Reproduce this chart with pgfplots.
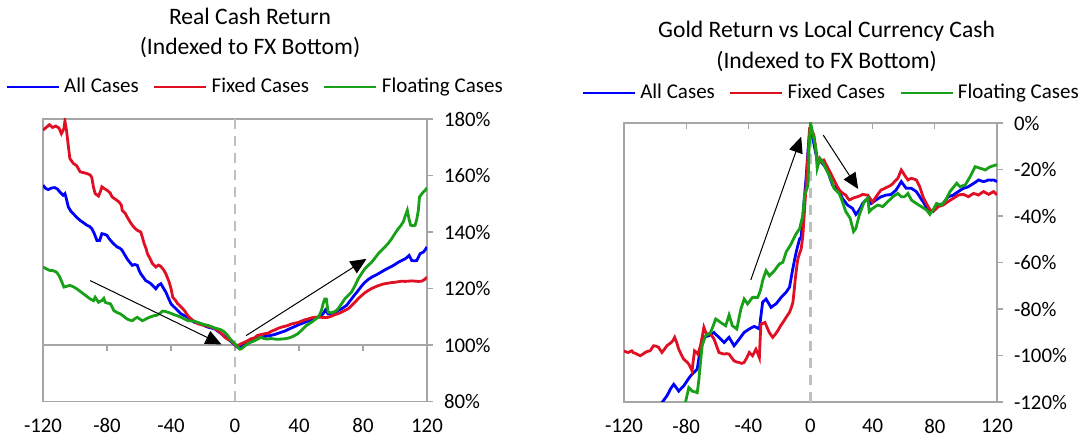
\documentclass[border=0pt]{standalone}
\usepackage{fontspec}
\setmainfont{Carlito}
\usepackage{pgfplots}
\pgfplotsset{compat=1.18}
\usetikzlibrary{arrows.meta}
\definecolor{cBlue}{RGB}{0,0,255}
\definecolor{cRed}{RGB}{224,16,36}
\definecolor{cGreen}{RGB}{24,160,24}
\definecolor{bord}{RGB}{166,166,166}
\definecolor{dashg}{RGB}{191,191,191}
\tikzset{arr/.style={black, line width=0.5pt, -{Triangle[length=8pt,width=7pt]}}}
\pgfplotsset{
  mystyle/.style={
    scale only axis,
    axis line style={bord, line width=0.6pt},
    ytick pos=right, yticklabel pos=right,
    tick align=outside,
    major tick length=3pt,
    y tick style={bord, line width=0.6pt},
    x tick style={draw=none},
    tick label style={font=\fontsize{10.4}{12}\selectfont, black},
    yticklabel style={xshift=2pt},
    xticklabel style={yshift=-2pt},
    xtick={-120,-80,-40,0,40,80,120},
    xticklabels={-120,-80,-40,0,40,80,120},
    xmin=-120, xmax=120,
    legend style={draw=none, fill=none, legend columns=3, font=\fontsize{10.5}{12}\selectfont,
      /tikz/every even column/.append style={column sep=5pt}},
    legend image code/.code={\draw[#1] (0pt,0pt) -- (26pt,0pt);},
    every axis plot/.append style={line width=1.4pt, mark=none},
  },
}
\begin{document}
\begin{tikzpicture}[x=1pt,y=1pt]
\path[use as bounding box] (0,0) rectangle (543,222);
\node[anchor=base, font=\fontsize{11.8}{14}\selectfont] at (125,209.5) {Real Cash Return};
\node[anchor=base, font=\fontsize{11.8}{14}\selectfont] at (125,194.8) {(Indexed to FX Bottom)};
\node[anchor=base, font=\fontsize{11.8}{14}\selectfont] at (413.3,203.3) {Gold Return vs Local Currency Cash};
\node[anchor=base, font=\fontsize{11.8}{14}\selectfont] at (413.3,187.8) {(Indexed to FX Bottom)};

% ---------------- Left chart ----------------
\begin{axis}[mystyle, at={(21.5pt,21.25pt)}, anchor=south west, width=192pt, height=141.25pt,
  ymin=80, ymax=180, ytick={80,100,120,140,160,180},
  yticklabels={80\%,100\%,120\%,140\%,160\%,180\%},
  legend style={at={(0.555,1.113)}, anchor=center}]
\addplot[dashg, line width=1.3pt, dash pattern=on 5pt off 3.5pt, forget plot] coordinates {(0,80) (0,180)};
\addplot[bord, line width=0.6pt, forget plot] coordinates {(-120,100) (120,100)};
\pgfplotsinvokeforeach{-120,-80,-40,0,40,80,120}{\draw[bord, line width=0.6pt] (axis cs:#1,100) -- ++(0pt,-3pt);}
\addplot[cBlue] coordinates {
(-120,156.6)(-118.5,155.5)(-116.8,155.0)(-114.5,155.6)(-112.6,155.7)(-111,155.2)(-109.5,154.2)(-108,153.3)(-107.4,153.0)(-106.3,153.6)(-105.5,152)(-104.2,148.9)(-102.5,147.3)(-101.1,146.5)(-99,145.2)(-96.8,144.1)(-94.5,143.2)(-92.6,142.4)(-91,142)(-89.5,141.2)(-88,139.5)(-86.3,137.0)(-84.6,137.0)(-83.2,139.4)(-81.5,139.2)(-80.0,138.8)(-78.5,137.5)(-76.8,136.4)(-75.2,135.5)(-73.7,134.7)(-72,134.3)(-70.5,133.5)(-69,132)(-67.4,130.5)(-65.8,129.3)(-64.2,128.2)(-62.7,128.5)(-61.1,128.2)(-60,126.5)(-58.9,125.2)(-57.3,124)(-55.8,122.8)(-54.2,122.3)(-52.6,121.7)(-51,120.8)(-49.5,119.9)(-47.8,121.2)(-46.3,121.7)(-44.8,120.2)(-43.2,118.7)(-41.6,116.6)(-40.0,114.6)(-38.4,113.6)(-36.8,112.8)(-35.2,111.8)(-33.7,111.0)(-31.6,110.4)(-29.5,109.8)(-27.4,108.8)(-25.3,108.0)(-23.2,107.8)(-21.1,107.5)(-19,106.8)(-16.8,106.3)(-14.7,106.0)(-12.6,105.7)(-10.5,104.8)(-8.4,103.9)(-6.3,103)(-4.2,102.1)(-2,101)(0,100)
(1.3,99.3)(2.7,98.9)(5,99.8)(7.9,100.9)(10.5,101.6)(13.2,102.1)(15.8,102.7)(18.4,103.0)(21.5,103.3)(24.7,103.7)(27.8,104.3)(31.0,104.9)(34,105.7)(37.2,106.5)(40.3,107.3)(43.5,108.0)(46.6,108.7)(49.8,109.2)(52.5,110.1)(55.0,111.0)(56.5,112.4)(58.2,111.0)(60.2,111.2)(62.3,111.6)(64.4,112.2)(66.5,112.8)(68.1,113.4)(69.7,114.0)(71.2,115.1)(72.8,116.3)(75,117.9)(77.0,119.3)(79,120.8)(81.2,122.2)(83.3,123.2)(85.4,124.0)(87.5,124.6)(89.5,125.2)(91.6,125.9)(93.7,126.6)(95.8,127.2)(97.9,127.8)(100,128.5)(102.1,129.3)(104.2,129.9)(106.3,130.5)(107.5,131.0)(108.8,131.7)(110.5,129.9)(112,129.8)(113.6,129.9)(115.7,132.3)(117.8,132.9)(119,133.8)(120,134.7)
};
\addlegendentry{All Cases}
\addplot[cRed] coordinates {
(-120,176.1)(-118,177.0)(-116,178.0)(-114,177.0)(-112,177.5)(-110,176.8)(-108.5,174.8)(-107,176.5)(-106.3,179.3)(-105.3,176.0)(-104.5,172)(-103.2,166.0)(-101.1,164.3)(-99,163.5)(-96.8,161.3)(-94.5,161.0)(-92.6,160.7)(-90.5,160.2)(-89.5,159.3)(-88.5,156)(-87.4,153.6)(-85.3,152.7)(-84,154.5)(-83.2,156.0)(-81.5,155.3)(-80.0,154.8)(-78,153.8)(-76.8,152.4)(-74.5,151.5)(-72.6,150.7)(-71,149.5)(-70.5,147.7)(-68.5,146.5)(-67.4,145.3)(-65.5,143.5)(-64.2,142.4)(-62.5,141.3)(-61.1,140.6)(-58.9,140.0)(-57.8,138)(-56.8,135.9)(-55.5,134)(-54.7,132.3)(-53,130.5)(-51.6,128.8)(-49.5,127.6)(-47.8,128.3)(-46.3,127.8)(-44.5,126.5)(-43.2,125.2)(-41.1,122.2)(-39.8,119.5)(-38.9,116.9)(-37.2,115.8)(-35.8,114.6)(-33.7,113.5)(-31.6,112.2)(-29.5,110.4)(-27.4,109.2)(-25.3,108.3)(-23.2,107.5)(-21,107.2)(-18.9,106.9)(-16.8,106.6)(-14.7,106.3)(-12.6,105.8)(-10.5,105.1)(-8.4,104)(-6.3,102.7)(-4.2,101.9)(-2.1,101.5)(0,100)
(1.5,99.8)(3.8,100.4)(6,101)(7.9,101.5)(10,102.2)(12.1,102.5)(14,103.4)(16.3,103.7)(18.5,104.0)(20.5,104.1)(22.5,104.8)(24.7,105.3)(27,105.9)(28.9,106.3)(31,106.6)(33.1,106.9)(35,107.4)(37.2,107.7)(39.5,108.0)(41.4,108.4)(43.5,108.9)(45.6,109.2)(47.7,109.6)(49.8,109.8)(52,109.9)(54,109.8)(56,109.7)(58.2,109.8)(60.3,110.2)(62.3,110.7)(64.4,111.1)(66.5,111.6)(68.6,112.2)(70.7,112.8)(72.8,113.9)(74.9,115.1)(77,116.4)(79.1,117.5)(81.2,118.5)(83.3,119.3)(85.4,120.0)(87.4,120.5)(89.5,121.0)(91.6,121.4)(93.7,121.7)(95.8,121.9)(97.9,122.1)(100,122.2)(102.1,122.4)(104.2,122.6)(106.3,122.5)(108.4,122.6)(110.5,122.7)(112.6,122.6)(114.7,122.5)(116.7,122.6)(118.5,123.2)(120,124.0)
};
\addlegendentry{Fixed Cases}
\addplot[cGreen] coordinates {
(-120,127.6)(-118,127)(-115.8,126.4)(-113.5,126.3)(-111.6,125.8)(-110.5,125)(-109.5,124.0)(-108,122)(-106.9,120.5)(-105,120.8)(-103.2,121.1)(-101,120.6)(-98.9,119.9)(-96.8,119)(-94.7,118.1)(-92.6,117.2)(-90.5,116.3)(-88.4,115.7)(-87.4,116.9)(-86.3,116)(-85.3,115.1)(-84.2,115.5)(-83.2,115.7)(-82,116.5)(-81.1,115.1)(-79.5,114.8)(-77.9,114.6)(-76.8,113.5)(-75.8,112.2)(-73.7,111.5)(-71.6,111.0)(-69.5,110.1)(-67.4,109.2)(-65.8,108.8)(-64.2,108.6)(-62.6,109.3)(-61.1,109.8)(-59.5,109.2)(-57.9,108.6)(-56.3,109.0)(-54.7,109.5)(-52.6,110.0)(-50.5,110.4)(-49,110.5)(-47.4,111.0)(-45.3,112.0)(-43.7,111.9)(-42.1,111.6)(-40,111.2)(-37.9,110.7)(-35.8,110.3)(-33.7,109.8)(-31.6,109.2)(-29.5,108.6)(-27.4,108.5)(-25.3,108.4)(-23.2,108.0)(-21.1,107.5)(-19,107.2)(-16.8,106.9)(-14.7,106.5)(-12.6,106.0)(-10.5,105.7)(-8.4,105.3)(-6.8,104.7)(-5.3,103.9)(-3.7,102.7)(-2.1,101.5)(0,100.4)
(1.5,99.4)(3,98.5)(3.8,98.6)(5.8,99.5)(7.9,100.4)(10,101)(12.1,101.5)(14.2,102.1)(16.3,102.7)(18.4,102.2)(20.5,102.1)(22.6,102.3)(24.7,102.1)(26.8,102.0)(28.9,102.1)(31,102.2)(33.1,102.4)(35.2,102.8)(37.2,103.3)(39.3,104.0)(41.4,105.1)(43,106.0)(44.6,106.9)(46.2,107.5)(47.7,108.0)(49.8,108.9)(51.9,109.8)(53,110.8)(54.0,112.2)(55,114.5)(56.1,116.3)(57.1,116.3)(58.2,111.6)(59.8,111.4)(61.3,111.6)(62.9,112.0)(64.4,112.8)(66.5,114.5)(68.6,116.3)(70.7,117.5)(72.8,118.7)(75,121.0)(77.0,123.4)(79,125.2)(81.2,127.0)(83.3,128.2)(85.4,129.3)(87.5,130.8)(89.5,132.3)(91.6,133.5)(93.7,134.7)(95.8,136.0)(97.9,137.6)(100,139.5)(102.1,141.2)(103.7,142.3)(105.2,143.6)(106.5,145.8)(107.7,147.7)(108.8,144.5)(109.8,142.4)(111.2,142.2)(112.6,142.4)(113.6,144.5)(114.6,147.7)(115.3,152.4)(116.5,153.3)(117.8,154.2)(119,154.8)(120,155.7)
};
\addlegendentry{Floating Cases}
\draw[arr] (axis cs:-90.5,122.8) -- (axis cs:-8.4,100.2);
\draw[arr] (axis cs:6.9,103.3) -- (axis cs:82.2,130.5);
\end{axis}

% ---------------- Right chart ----------------
\begin{axis}[mystyle, at={(312pt,21pt)}, anchor=south west, width=186.5pt, height=139.5pt,
  ymin=-120, ymax=0, ytick={-120,-100,-80,-60,-40,-20,0},
  yticklabels={-120\%,-100\%,-80\%,-60\%,-40\%,-20\%,0\%},
  legend style={at={(0.558,1.1075)}, anchor=center}]
\addplot[dashg, line width=1.3pt, dash pattern=on 5pt off 3.5pt, forget plot] coordinates {(0,-120) (0,0)};
\pgfplotsinvokeforeach{-120,-80,-40,0,40,80,120}{\draw[bord, line width=0.6pt] (axis cs:#1,0) -- ++(0pt,-3pt);}
\addplot[cBlue] coordinates {
(-100,-124)(-97.8,-122)(-95.6,-120.3)(-94,-118.8)(-92.4,-117.4)(-91.3,-116)(-90.2,-114.5)(-89.1,-113.4)(-88.0,-112.4)(-86.4,-113.8)(-84.8,-115.3)(-83.2,-114.2)(-81.6,-113.1)(-80.5,-112)(-79.4,-110.9)(-78.3,-109.8)(-77.2,-108.8)(-76.1,-108)(-75.1,-107.3)(-74,-106.6)(-72.9,-105.9)(-71.8,-101)(-70.8,-97.3)(-69.7,-94.5)(-68.6,-92.2)(-67,-91.8)(-65.4,-91.5)(-63.8,-90.8)(-62.1,-90.1)(-60.5,-91.2)(-58.9,-92.2)(-57.2,-93.3)(-55.6,-94.4)(-54,-93.3)(-52.4,-92.2)(-50.8,-94)(-49.2,-95.8)(-47.5,-94.4)(-45.9,-93.0)(-44.3,-91.5)(-42.7,-90.1)(-41,-89.3)(-39.4,-88.6)(-37.8,-88)(-36.2,-87.5)(-34.5,-88)(-32.9,-88.6)(-31.9,-83)(-30.8,-77.1)(-29.7,-76.4)(-28.6,-75.7)(-27,-77.5)(-25.4,-79.3)(-23.8,-78.5)(-22.2,-77.8)(-20.5,-76.4)(-18.9,-75.0)(-17.3,-73.9)(-15.7,-72.8)(-14.6,-71.7)(-13.5,-70.6)(-12.4,-66.5)(-11.4,-62.7)(-10.3,-59)(-9.2,-55.5)(-8.1,-52.6)(-7.0,-49.8)(-6.0,-49.1)(-4.9,-39.7)(-3.8,-31)(-2.7,-22.4)(-1.6,-12)(-0.6,-3.7)(0,-2.3)
(1.1,-5)(2.2,-9)(3.2,-12.5)(4.3,-15.2)(6,-16.2)(7.6,-17.3)(9.2,-18.7)(10.8,-20.2)(12.5,-23.5)(14.1,-26.7)(15.7,-27.4)(17.3,-28.1)(18.9,-30.3)(20.5,-32.4)(22.2,-33.9)(23.8,-35.3)(25.4,-36)(27.0,-36.7)(28.1,-38)(29.2,-39.3)(30.3,-38.4)(31.4,-37.4)(32.5,-36)(33.5,-34.6)(35.2,-33.5)(36.8,-32.4)(37.8,-33.5)(38.9,-34.6)(40.5,-33.9)(42.2,-33.1)(43.8,-32.4)(45.4,-31.7)(47,-31.4)(48.6,-31.0)(50.3,-30.9)(51.9,-30.7)(53.5,-29.8)(55.1,-28.8)(56.8,-27)(58.4,-25.2)(60,-26.7)(61.6,-28.1)(63.2,-28.1)(64.9,-28.1)(66.5,-28.8)(68.1,-29.5)(69.2,-30.6)(70.3,-31.7)(71.3,-32.8)(72.4,-33.8)(74,-35.6)(75.7,-37.4)(77.3,-37.8)(78.9,-38.1)(80.5,-36.7)(82.2,-35.3)(83.8,-35.0)(85.4,-34.6)(87,-33.2)(88.6,-31.7)(90.2,-31.4)(91.9,-31.0)(93.5,-30.2)(95.1,-29.5)(96.7,-28.8)(98.4,-28.1)(100,-27.8)(101.6,-27.4)(103.2,-26.7)(104.9,-26.0)(106.5,-25.3)(108.1,-24.5)(109.7,-24.9)(111.4,-25.2)(113,-24.9)(114.6,-24.5)(116.2,-24.6)(117.8,-24.5)(119,-24.9)(120,-25.2)
};
\addlegendentry{All Cases}
\addplot[cRed] coordinates {
(-120,-98.0)(-118.6,-98.5)(-117.2,-98.7)(-116,-98.3)(-115.0,-98.0)(-114,-98.8)(-112.9,-99.0)(-111.2,-99.6)(-109.6,-100.1)(-108,-99.5)(-106.4,-98.7)(-104.8,-98.2)(-103.2,-98.0)(-102,-96.8)(-101.0,-95.8)(-99.4,-96)(-97.8,-96.5)(-96.7,-97.6)(-95.6,-98.7)(-94,-97.3)(-92.4,-95.8)(-90.8,-95)(-89.1,-94.1)(-88.2,-93.2)(-87.4,-92.2)(-86,-94.6)(-84.8,-97.3)(-83.2,-99.5)(-81.6,-101.6)(-80,-102.5)(-78.3,-103.7)(-77.3,-105)(-76.2,-106.6)(-75.4,-102)(-74.6,-98.0)(-73.5,-98.6)(-72.5,-99.4)(-71.6,-97.5)(-70.8,-95.8)(-69.7,-92)(-68.6,-87.9)(-67.7,-89.5)(-66.9,-90.8)(-65.6,-90.8)(-64.3,-90.8)(-63.2,-91.8)(-62.1,-92.9)(-60.5,-95.8)(-58.9,-98.7)(-57.2,-99.1)(-55.6,-99.4)(-54,-99.2)(-52.4,-99.4)(-50.8,-100.9)(-49.2,-102.3)(-47.5,-102.8)(-45.9,-103.0)(-44.3,-103.4)(-42.7,-103.0)(-41,-101)(-39.4,-98.7)(-38.4,-99.4)(-37.3,-100.1)(-36.2,-98.7)(-35.1,-97.3)(-34,-99)(-32.9,-100.9)(-32.4,-93)(-31.9,-86.5)(-30.6,-86.2)(-29.3,-85.8)(-27.9,-88)(-26.5,-90.1)(-25.4,-91.2)(-24.3,-92.2)(-22.7,-90.9)(-21.1,-89.4)(-19.5,-87.5)(-17.8,-85.8)(-16.8,-84.8)(-15.7,-83.6)(-14.6,-82.5)(-13.5,-81.4)(-12.4,-79.5)(-11.3,-77.1)(-10.5,-72)(-9.8,-67.1)(-8.9,-62)(-8.1,-58.4)(-7,-56)(-6.0,-54.1)(-4.9,-48.3)(-3.8,-37)(-2.7,-25.3)(-1.9,-17)(-1.2,-9.5)(-0.6,-2.3)(0,-2.0)
(1,-3.5)(2.2,-5.2)(3.2,-10)(4.3,-15.2)(5.4,-16.3)(6.5,-16.6)(7.6,-16.0)(8.6,-15.9)(9.7,-17.5)(10.8,-18.8)(11.9,-20.3)(13.0,-21.6)(14.1,-23.2)(15.1,-24.5)(16.2,-26)(17.3,-27.4)(18.4,-28.6)(19.5,-29.5)(21.1,-30.4)(22.7,-31.0)(23.8,-32.2)(24.9,-33.1)(26,-32.8)(27.0,-32.4)(28.7,-32)(30.3,-31.7)(31.9,-31.3)(33.5,-30.7)(35.2,-30.9)(36.8,-31.0)(38.4,-32.6)(40.0,-34.1)(41.1,-32.8)(42.2,-31.7)(43.8,-30.2)(45.4,-28.8)(47,-28.4)(48.6,-27.8)(50.3,-27.3)(51.9,-26.7)(53,-26)(54.1,-25.2)(55.2,-24.4)(56.2,-23.8)(57.3,-22)(58.4,-20.2)(59.5,-21.3)(60.5,-22.4)(61.6,-23.5)(62.7,-24.5)(63.8,-24.1)(64.9,-23.8)(66.5,-24.1)(68.1,-24.5)(69.2,-26)(70.3,-27.4)(71.3,-29.5)(72.4,-31.7)(74,-33.9)(75.7,-36.0)(76.8,-37.1)(77.8,-38.1)(78.9,-37.8)(80.0,-37.4)(81.1,-36.7)(82.2,-36.0)(83.8,-35.6)(85.4,-35.3)(87,-34.5)(88.6,-33.8)(90.2,-33.1)(91.9,-32.4)(93.5,-31.7)(95.1,-31.0)(96.7,-30.8)(98.4,-30.7)(100,-31.2)(101.6,-31.7)(103.2,-31.0)(104.9,-30.3)(106.5,-30.6)(108.1,-31.0)(109.7,-30.2)(111.4,-29.5)(113,-30.1)(114.6,-30.7)(116.2,-30.1)(117.8,-29.5)(119,-30.2)(120,-31.0)
};
\addlegendentry{Fixed Cases}
\addplot[cGreen] coordinates {
(-81.5,-124)(-80.5,-120.3)(-79.4,-117)(-78.3,-113.8)(-77.2,-114.5)(-76.2,-115.3)(-74.5,-115.6)(-72.9,-116.0)(-72.3,-113)(-71.8,-110.2)(-70.8,-103)(-69.7,-95.8)(-68.6,-93.6)(-67.5,-91.5)(-65.9,-90.8)(-64.3,-90.1)(-62.6,-87.2)(-61.0,-84.3)(-59.4,-85)(-57.8,-85.8)(-56.2,-86.5)(-54.6,-87.2)(-53.5,-85)(-52.4,-82.6)(-51.3,-85)(-50.3,-87.2)(-48.8,-87.9)(-47.4,-88.6)(-46.1,-84.3)(-44.8,-80.0)(-43.7,-77.8)(-42.7,-75.7)(-41.6,-76.7)(-40.5,-77.8)(-38.9,-76.4)(-37.3,-75.0)(-35.6,-75.0)(-34.0,-75.0)(-33.1,-73.6)(-32.3,-72.1)(-31.5,-70)(-30.8,-67.8)(-29.7,-65.6)(-28.6,-63.5)(-27.5,-64.6)(-26.5,-65.7)(-24.8,-64.6)(-23.2,-63.5)(-21.6,-62)(-20.0,-60.6)(-18.9,-60.3)(-17.8,-59.9)(-16.7,-57.7)(-15.7,-55.5)(-14,-53.7)(-12.4,-51.9)(-10.8,-49.7)(-9.2,-47.6)(-8.1,-46.5)(-7.0,-45.5)(-6,-42.6)(-4.9,-39.7)(-3.8,-31.1)(-2.7,-29)(-1.6,-26.8)(-1.0,-12.4)(-0.4,-4)(0,0)
(0.9,-2.6)(1.7,-5.2)(2.5,-7.7)(3.2,-10.2)(3.8,-15)(4.3,-19.5)(5.2,-17.3)(6.1,-15.2)(7.2,-16.2)(8.2,-17.3)(9.5,-19.1)(10.8,-20.9)(11.9,-22.3)(13.0,-23.8)(14.1,-26)(15.1,-28.1)(16.8,-29.2)(18.4,-30.3)(19.5,-32)(20.5,-33.8)(21.6,-36)(22.7,-38.1)(24.1,-39.5)(25.5,-41.0)(26.6,-43.8)(27.7,-46.7)(28.5,-46)(29.2,-45.3)(30.3,-42.4)(31.4,-39.6)(33,-36.7)(34.6,-33.8)(35.7,-33.1)(36.8,-32.4)(37.3,-35)(37.8,-38.1)(38.9,-37.4)(40.0,-36.7)(41.6,-36)(43.2,-35.3)(44.9,-35.6)(46.5,-36.0)(48.1,-34.9)(49.7,-33.8)(51.4,-32.8)(53.0,-31.7)(54.6,-31)(56.2,-30.3)(57.3,-31)(58.4,-31.7)(59.5,-31.7)(60.5,-31.7)(61.6,-31)(62.7,-30.3)(63.8,-31.7)(64.9,-33.1)(66.5,-33.9)(68.1,-34.6)(69.7,-35.3)(71.4,-36.0)(73,-36.7)(74.6,-37.4)(75.7,-38.3)(76.8,-39.3)(77.8,-38.3)(78.9,-37.4)(80,-36)(81.1,-34.6)(82.7,-35)(84.3,-35.3)(86,-33.9)(87.6,-32.4)(88.6,-31)(89.7,-29.5)(91.9,-27.7)(94.1,-25.9)(95.1,-26.7)(96.2,-27.4)(97.8,-27)(99.5,-26.7)(101.1,-24.9)(102.7,-23.1)(104.3,-21)(105.9,-18.8)(107.5,-19.1)(109.2,-19.5)(110.8,-19.8)(112.4,-20.2)(114,-19.5)(115.7,-18.8)(117.3,-18.5)(118.9,-18.1)(120,-18.1)
};
\addlegendentry{Floating Cases}
\draw[arr] (axis cs:-38.4,-67.5) -- (axis cs:-6.0,-5.9);
\draw[arr] (axis cs:8.2,-5.2) -- (axis cs:30.7,-28.4);
\end{axis}
\end{tikzpicture}
\end{document}
